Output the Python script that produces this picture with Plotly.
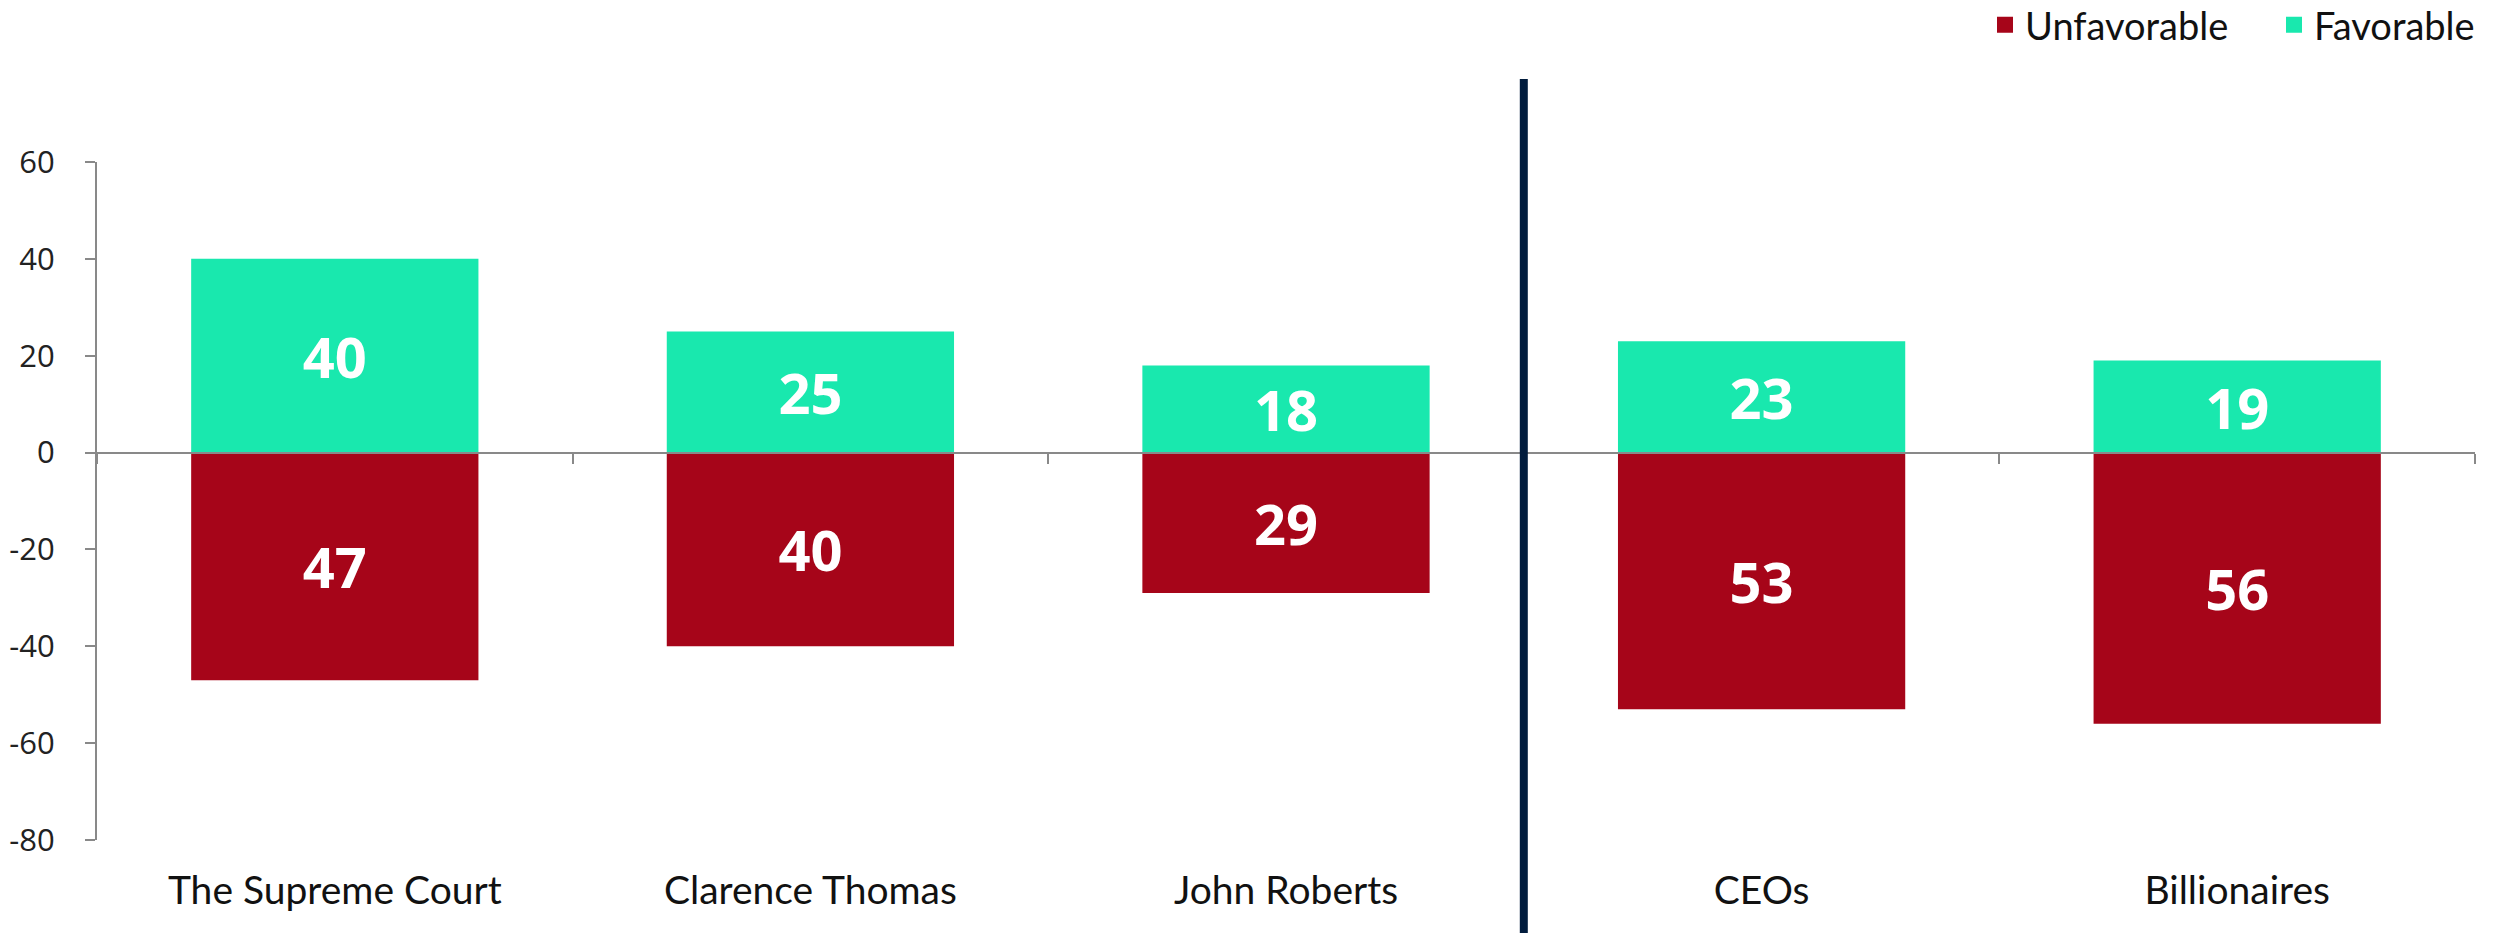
import plotly.graph_objects as go

categories = ["The Supreme Court", "Clarence Thomas", "John Roberts", "CEOs", "Billionaires"]
favorable = [40, 25, 18, 23, 19]
unfavorable = [47, 40, 29, 53, 56]
first_group_size = 3  # divider after "John Roberts"
y_ticks = [-80, -60, -40, -20, 0, 20, 40, 60]

RED = "#A60519"
TEAL = "#19E8AE"
NAVY = "#011C3D"
GRAY = "#898989"

W, H = 2511, 933
ml, mr, mt, mb = 97, 36, 162, 93
plot_h = H - mt - mb
plot_w = W - ml - mr
ymin, ymax = -80, 60

fig = go.Figure()

fig.add_trace(go.Bar(
    x=categories, y=[-v for v in unfavorable], name="Unfavorable",
    marker=dict(color=RED, line=dict(width=0)),
    text=[str(v) for v in unfavorable], textposition="inside",
    insidetextanchor="middle", constraintext="none",
    textfont=dict(family="Open Sans", size=56, color="white", weight="bold"),
    showlegend=False, hoverinfo="skip",
))
fig.add_trace(go.Bar(
    x=categories, y=favorable, name="Favorable",
    marker=dict(color=TEAL, line=dict(width=0)),
    text=[str(v) for v in favorable], textposition="inside",
    insidetextanchor="middle", constraintext="none",
    textfont=dict(family="Open Sans", size=56, color="white", weight="bold"),
    showlegend=False, hoverinfo="skip",
))
# legend entries
for nm, col in [("Unfavorable", RED), ("Favorable", TEAL)]:
    fig.add_trace(go.Scatter(
        x=[None], y=[None], mode="markers", name=nm,
        marker=dict(symbol="square", size=16, color=col),
    ))
# invisible trace carrying the zero-line axis with boundary ticks
fig.add_trace(go.Scatter(
    x=categories, y=favorable, xaxis="x2", mode="none",
    showlegend=False, hoverinfo="skip",
))

fig.add_shape(
    type="line", xref="x", yref="paper",
    x0=first_group_size - 0.5, x1=first_group_size - 0.5,
    y0=-(mb) / plot_h, y1=(plot_h + mt - 79) / plot_h,
    line=dict(color=NAVY, width=8), layer="above",
)

fig.update_layout(
    width=W, height=H,
    margin=dict(l=ml, r=mr, t=mt, b=mb, pad=0, autoexpand=False),
    paper_bgcolor="white", plot_bgcolor="white",
    barmode="relative", bargap=0.396,
    showlegend=True,
    legend=dict(
        orientation="h", x=(1985 - ml) / plot_w, xanchor="left",
        y=(plot_h + mt - 25) / plot_h, yanchor="middle",
        font=dict(family="Lato", size=38, color="#111111"),
        traceorder="normal", entrywidth=244, bgcolor="rgba(0,0,0,0)",
    ),
    xaxis=dict(
        type="category", categoryorder="array", categoryarray=categories,
        showgrid=False, zeroline=False, showline=False, ticks="",
        tickfont=dict(family="Lato", size=39, color="#111111"),
        ticklabelstandoff=24, automargin=False,
    ),
    xaxis2=dict(
        type="category", categoryorder="array", categoryarray=categories,
        matches="x", overlaying="x", anchor="free",
        position=(0 - ymin) / (ymax - ymin),
        showticklabels=False, showgrid=False, zeroline=False,
        showline=True, linecolor=GRAY, linewidth=2,
        ticks="outside", tickson="boundaries", ticklen=10, tickwidth=2, tickcolor=GRAY,
        automargin=False,
    ),
    yaxis=dict(
        range=[ymin, ymax], tickvals=y_ticks, ticktext=[str(v) for v in y_ticks],
        showgrid=False, zeroline=False,
        showline=True, linecolor=GRAY, linewidth=2,
        ticks="outside", ticklen=10, tickwidth=2, tickcolor=GRAY,
        tickfont=dict(family="Open Sans", size=31, color="#222222"),
        ticklabelstandoff=24, automargin=False,
    ),
    font=dict(family="Lato"),
)

# remove the browser's default 8px body margin so the chart fills the window exactly
fig.write_html("out.html", config={"displayModeBar": False},
               post_script="document.body.style.margin='0';")
